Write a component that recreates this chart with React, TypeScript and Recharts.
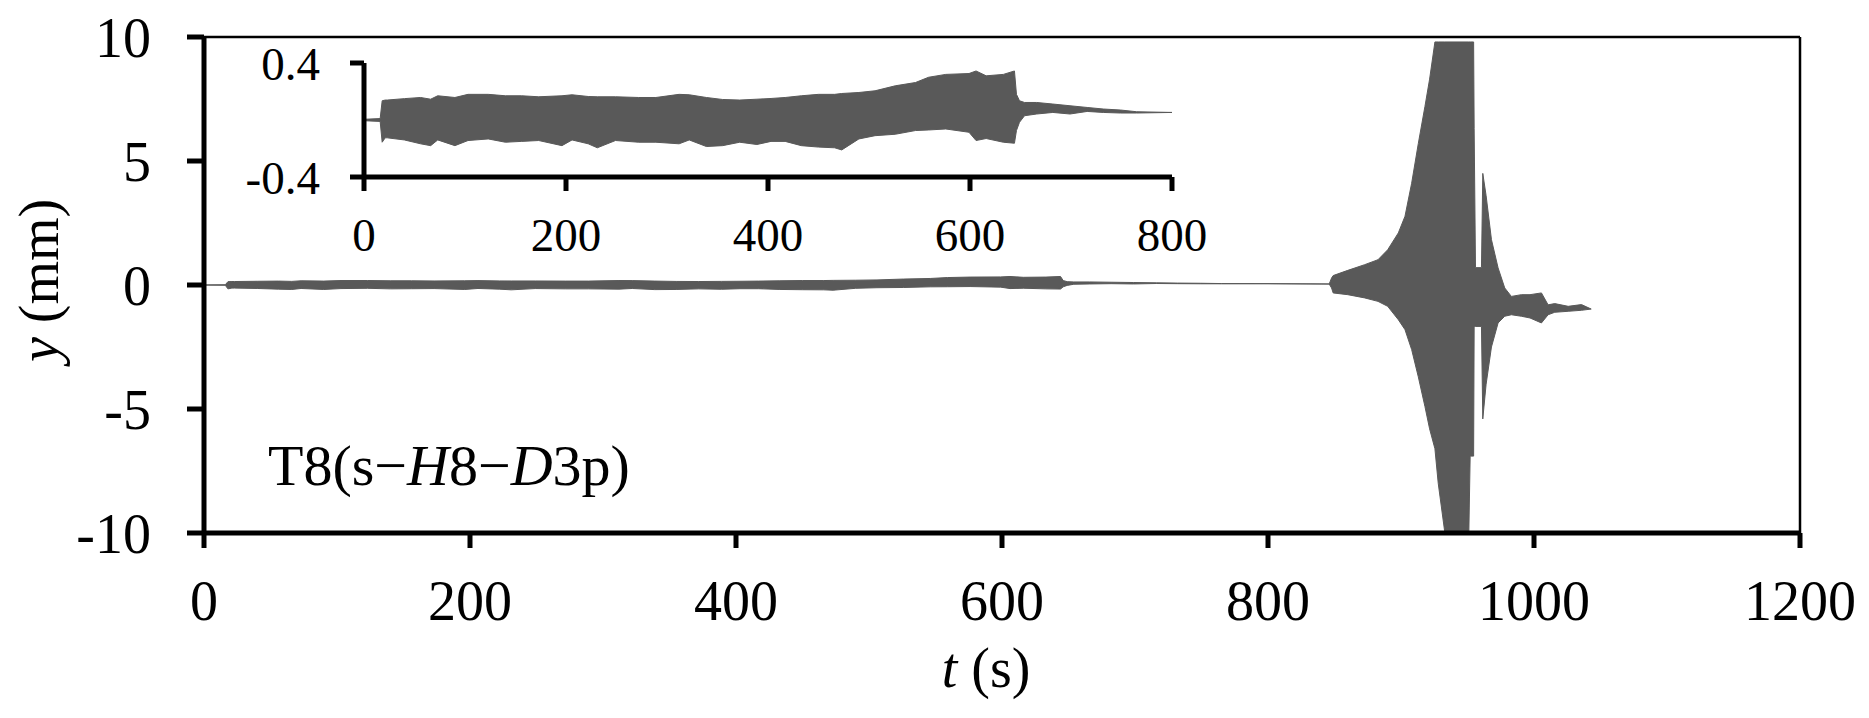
import React from 'react';
import { Area, ComposedChart, Label, ReferenceLine, XAxis, YAxis } from 'recharts';

// inset window (0–800 s): envelope of y
const T_EARLY = [0, 16, 18, 21, 23, 40, 56, 66, 73, 90, 103, 123, 140, 156, 173, 196, 206, 222, 231, 249, 272, 289, 312, 322, 339, 355, 372, 389, 403, 417, 433, 450, 466, 473, 490, 506, 526, 546, 559, 576, 599, 606, 616, 633, 644, 646, 649, 654, 666, 682, 699, 716, 732, 749, 765, 800];
const HI_EARLY = [0.005, 0.01, 0.135, 0.14, 0.14, 0.15, 0.158, 0.146, 0.17, 0.158, 0.18, 0.18, 0.17, 0.17, 0.163, 0.17, 0.177, 0.165, 0.163, 0.163, 0.158, 0.158, 0.18, 0.177, 0.158, 0.144, 0.14, 0.146, 0.151, 0.158, 0.17, 0.18, 0.18, 0.186, 0.193, 0.205, 0.24, 0.263, 0.3, 0.32, 0.326, 0.344, 0.31, 0.32, 0.344, 0.18, 0.135, 0.123, 0.123, 0.112, 0.1, 0.088, 0.077, 0.07, 0.058, 0.053];
const LO_EARLY = [-0.005, -0.01, -0.156, -0.125, -0.125, -0.14, -0.167, -0.18, -0.14, -0.18, -0.144, -0.133, -0.156, -0.15, -0.144, -0.18, -0.14, -0.167, -0.195, -0.144, -0.156, -0.156, -0.167, -0.14, -0.186, -0.18, -0.156, -0.172, -0.15, -0.15, -0.18, -0.19, -0.195, -0.21, -0.133, -0.11, -0.1, -0.074, -0.07, -0.063, -0.086, -0.144, -0.13, -0.156, -0.163, -0.074, -0.016, 0.03, 0.042, 0.053, 0.042, 0.06, 0.053, 0.049, 0.049, 0.053];

// rest of the record (after 800 s), only in the main panel
const T_LATE = [846, 847.8, 849, 860, 872.7, 882.7, 890, 898, 903, 908, 913, 918, 921.5, 925.5, 928, 933, 951, 952, 954.6, 955, 956, 960.5, 961.5, 964, 968, 973, 978, 983, 990.5, 997, 1005.6, 1010.6, 1015.6, 1025.7, 1035.7, 1043];
const HI_LATE = [0.04, 0.28, 0.38, 0.59, 0.82, 1.02, 1.42, 2.1, 2.77, 4.1, 5.7, 7.2, 8.3, 9.8, 9.8, 9.8, 9.8, 9.8, 9.8, 6.3, 0.7, 0.7, 4.5, 3.6, 1.83, 0.69, -0.12, -0.46, -0.39, -0.39, -0.32, -0.8, -0.75, -0.86, -0.79, -0.97];
const LO_LATE = [0.04, -0.12, -0.32, -0.39, -0.52, -0.66, -0.86, -1.4, -1.8, -2.6, -3.7, -4.9, -5.8, -6.6, -8.0, -10, -10, -6.9, -6.9, -1.67, -1.67, -1.67, -5.4, -4.0, -2.5, -1.53, -1.26, -1.2, -1.26, -1.33, -1.53, -1.2, -1.1, -1.06, -1.02, -0.97];

const MAIN_X_TICKS = [0, 200, 400, 600, 800, 1000, 1200];
const MAIN_Y_TICKS = [-10, -5, 0, 5, 10];
const INSET_X_TICKS = [0, 200, 400, 600, 800];
const INSET_Y_TICKS = [-0.4, 0, 0.4];

const FONT = '"Liberation Serif", "Times New Roman", serif';
const GREY = '#595959';

const toRows = (t: number[], hi: number[], lo: number[]) =>
  t.map((v, i) => ({ t: v, range: [lo[i], hi[i]] }));

const insetData = toRows(T_EARLY, HI_EARLY, LO_EARLY);
const mainData = [...insetData, ...toRows(T_LATE, HI_LATE, LO_LATE)];

const axisStroke = { stroke: '#000', strokeWidth: 5 };

function YTitle({ viewBox }: any) {
  const x = viewBox.x + 54;
  const y = viewBox.y + viewBox.height / 2 + 77;
  return (
    <text x={x} y={y} transform={`rotate(-90 ${x} ${y})`} fontFamily={FONT} fontSize={56} fill="#000">
      <tspan fontStyle="italic">y</tspan> (mm)
    </text>
  );
}

function XTitle({ viewBox }: any) {
  const x = viewBox.x + viewBox.width / 2 - 16;
  return (
    <text x={x} y={687} textAnchor="middle" fontFamily={FONT} fontSize={56} fill="#000">
      <tspan fontStyle="italic">t</tspan> (s)
    </text>
  );
}

export default function App() {
  return (
    <div style={{ position: 'absolute', left: 0, top: 0, width: 1869, height: 718, background: '#fff' }}>
      <ComposedChart width={1869} height={718} data={mainData} margin={{ top: 37, right: 69, bottom: 0, left: 4 }}>
        <XAxis
          type="number"
          dataKey="t"
          domain={[0, 1200]}
          ticks={MAIN_X_TICKS}
          height={185}
          axisLine={axisStroke}
          tickLine={axisStroke}
          tickSize={15}
          tickMargin={32}
          tick={{ fill: '#000', fontSize: 56, fontFamily: FONT }}
        >
          <Label content={<XTitle />} />
        </XAxis>
        <YAxis
          type="number"
          domain={[-10, 10]}
          ticks={MAIN_Y_TICKS}
          allowDataOverflow
          width={200}
          axisLine={axisStroke}
          tickLine={axisStroke}
          tickSize={17}
          tickMargin={36}
          tick={{ fill: '#000', fontSize: 56, fontFamily: FONT }}
        >
          <Label content={<YTitle />} />
        </YAxis>
        <ReferenceLine y={10} stroke="#000" strokeWidth={2.5} />
        <ReferenceLine x={1200} stroke="#000" strokeWidth={2.5} />
        <Area
          type="linear"
          dataKey="range"
          stroke={GREY}
          strokeWidth={1}
          fill={GREY}
          fillOpacity={1}
          dot={false}
          activeDot={false}
          isAnimationActive={false}
        />
        <text x={268} y={485} fontFamily={FONT} fontSize={58} fill="#000">
          T8(s−<tspan fontStyle="italic">H</tspan>8−<tspan fontStyle="italic">D</tspan>3p)
        </text>
      </ComposedChart>

      <div style={{ position: 'absolute', left: 0, top: 0 }}>
        <ComposedChart width={1869} height={300} data={insetData} margin={{ top: 63, right: 697, bottom: 0, left: 264 }}>
          <XAxis
            type="number"
            dataKey="t"
            domain={[0, 800]}
            ticks={INSET_X_TICKS}
            height={123}
            axisLine={axisStroke}
            tickLine={axisStroke}
            tickSize={14}
            tickMargin={27}
            tick={{ fill: '#000', fontSize: 47, fontFamily: FONT }}
          />
          <YAxis
            type="number"
            domain={[-0.4, 0.4]}
            ticks={INSET_Y_TICKS}
            allowDataOverflow
            width={100}
            axisLine={axisStroke}
            tickLine={axisStroke}
            tickSize={14}
            tickMargin={30}
            tick={{ fill: '#000', fontSize: 47, fontFamily: FONT }}
          />
          <Area
            type="linear"
            dataKey="range"
            stroke={GREY}
            strokeWidth={1}
            fill={GREY}
            fillOpacity={1}
            dot={false}
            activeDot={false}
            isAnimationActive={false}
          />
        </ComposedChart>
      </div>
    </div>
  );
}
